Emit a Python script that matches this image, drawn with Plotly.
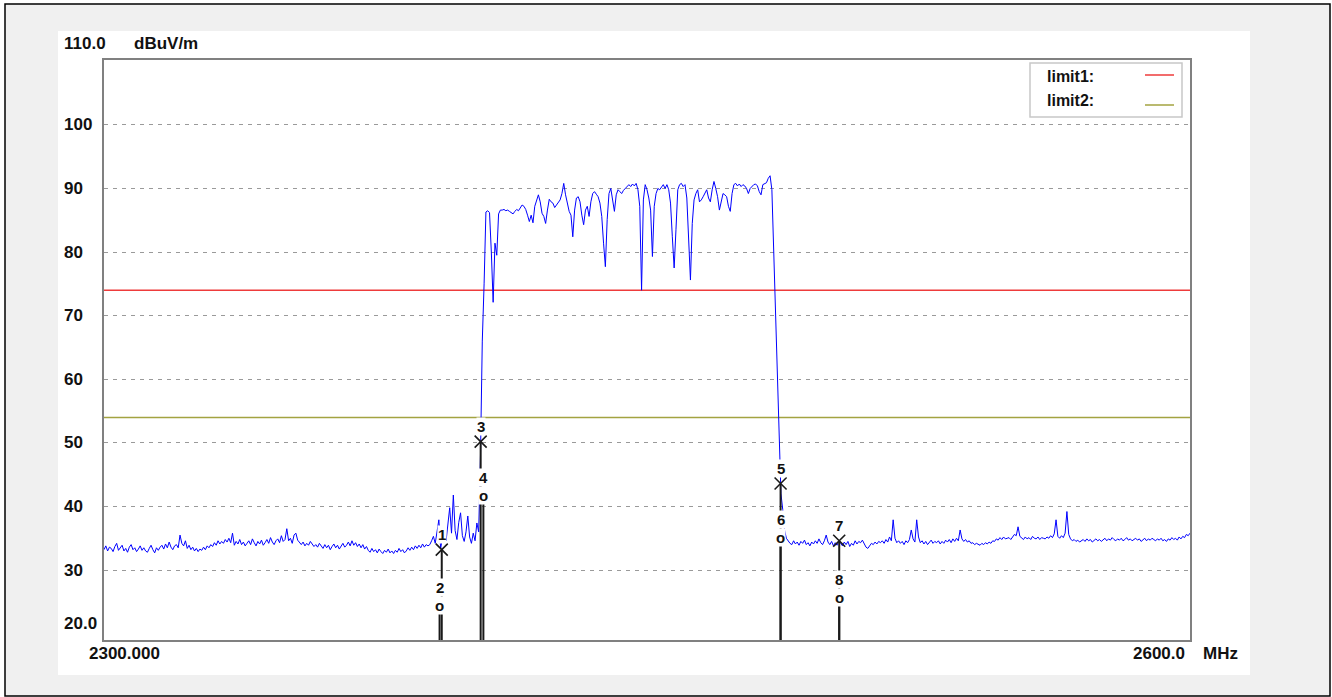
import plotly.graph_objects as go

# ---------------- data ----------------
F_START = 2300.0   # MHz, first sweep point
F_STEP = 0.5       # MHz between sweep points

level = [
    33.2, 33.8, 33.0, 33.6, 33.4, 32.9, 33.7, 34.2, 33.1, 33.5, 33.9, 33.0, 33.4, 32.8, 33.6, 34.0, 33.2, 33.5, 32.9, 33.3,
    33.8, 33.1, 33.5, 33.0, 32.8, 33.4, 33.9, 33.2, 32.7, 33.5, 33.1, 33.6, 33.9, 33.3, 34.1, 33.5, 34.4, 33.6, 33.2, 33.8,
    34.0, 33.5, 35.5, 34.2, 33.8, 34.6, 33.4, 33.9, 33.2, 33.6, 33.0, 33.4, 32.9, 33.3, 33.1, 33.6, 33.2, 33.8, 33.5, 34.0,
    33.7, 34.3, 33.9, 34.6, 34.1, 34.5, 34.2, 34.8, 34.4, 35.0, 34.3, 35.8, 33.9, 34.5, 34.1, 34.8, 34.0, 34.4, 33.8, 34.2,
    34.6, 34.0, 34.9, 34.3, 33.8, 34.5, 34.1, 34.7, 33.9, 34.3, 34.8, 34.2, 35.1, 34.4, 34.0, 34.6, 34.9, 34.3, 35.4, 34.5,
    34.8, 36.5, 34.6, 35.0, 34.2, 35.5, 35.8, 34.7, 34.3, 34.0, 34.4, 33.8, 34.2, 33.9, 34.5, 34.1, 33.7, 34.0, 33.6, 34.2,
    33.8, 33.4, 34.0, 33.5, 33.9, 33.2, 33.7, 34.1, 33.5, 33.9, 33.3, 33.8, 34.2, 33.6, 33.9, 34.4, 33.8, 34.6, 33.9, 34.3,
    33.7, 34.1, 33.5, 34.0, 33.3, 33.7, 33.1, 32.8, 33.4, 32.9, 33.2, 32.7, 33.3, 32.9, 32.6, 33.1, 32.8, 33.3, 32.7, 33.0,
    32.6, 33.1, 32.8, 33.4, 32.9, 33.2, 32.7, 33.0, 33.5, 33.1, 33.6, 33.2, 33.8, 33.4, 33.9, 33.5, 34.1, 33.6, 34.0, 33.8,
    34.0, 34.6, 35.3, 34.2, 36.0, 37.9, 33.4, 35.2, 36.8, 34.6, 37.0, 39.8, 35.8, 41.8, 36.2, 34.8, 37.5, 39.0, 35.4, 34.5,
    36.0, 38.5, 35.2, 34.2, 35.8, 34.6, 37.4, 36.0, 48.0, 66.0, 75.0, 86.3, 86.5, 86.2, 80.0, 72.1, 81.4, 79.5, 86.0, 86.6,
    86.6, 86.7, 86.5, 86.6, 86.4, 86.2, 86.0, 86.4, 86.7, 86.5, 87.0, 87.4, 87.2, 86.7, 85.8, 84.8, 85.8, 84.6, 87.2, 88.2,
    89.0, 87.9, 86.1, 85.6, 84.5, 86.6, 88.3, 87.9, 87.7, 87.0, 87.4, 87.9, 88.2, 89.2, 90.8, 89.0, 87.7, 86.4, 85.8, 82.4,
    86.6, 88.5, 88.7, 87.9, 85.8, 84.3, 86.6, 87.2, 85.6, 87.9, 89.2, 89.5, 89.1, 88.7, 87.7, 85.6, 81.4, 77.7, 85.1, 89.2,
    90.0, 88.5, 86.4, 89.0, 89.8, 89.5, 89.2, 89.7, 90.0, 90.3, 90.6, 90.3, 90.7, 90.4, 90.8, 89.8, 87.2, 74.0, 88.2, 90.6,
    89.8, 88.5, 86.6, 79.3, 87.2, 89.2, 90.0, 89.8, 90.3, 90.6, 90.0, 90.6, 89.8, 87.7, 82.4, 77.5, 83.5, 89.8, 90.6, 90.8,
    90.3, 90.6, 88.5, 82.4, 75.6, 84.5, 88.2, 89.2, 89.8, 87.9, 88.2, 88.7, 89.2, 89.8, 88.5, 87.9, 89.8, 91.1, 90.0, 88.7,
    86.6, 87.9, 89.2, 89.0, 88.7, 87.2, 86.4, 89.2, 90.6, 90.8, 90.4, 90.7, 90.3, 90.6, 90.4, 90.0, 89.2, 90.0, 90.4, 90.6,
    90.7, 90.4, 89.5, 89.0, 90.6, 90.8, 90.9, 91.6, 92.0, 89.8, 79.8, 70.5, 60.0, 50.5, 42.0, 39.5, 36.3, 35.0, 34.5, 34.2,
    34.0, 34.6, 34.1, 34.4, 33.9, 34.5, 34.2, 34.7, 34.0, 34.3, 33.8, 34.4, 34.1, 34.6, 34.2, 34.9, 34.3, 34.0, 34.6, 35.5,
    34.4, 34.0, 34.5, 33.8, 34.3, 33.9, 34.6, 34.2, 33.8, 34.4, 34.0, 34.5, 33.7, 34.2, 33.9, 34.6, 34.1, 34.5, 34.3, 34.7,
    34.0, 33.6, 33.4, 33.8, 34.2, 34.0, 34.4, 34.1, 34.5, 34.3, 34.6, 34.2, 34.8, 34.4, 35.2, 34.6, 37.9, 35.0, 34.3, 34.6,
    34.2, 34.5, 34.0, 34.6, 34.3, 34.8, 36.3, 34.9, 34.4, 37.9, 35.2, 34.3, 34.6, 34.1, 34.5, 34.0, 34.4, 34.7, 34.2, 34.5,
    34.3, 34.6, 34.1, 34.5, 34.2, 34.7, 34.4, 34.8, 34.3, 34.9, 34.5, 35.0, 34.6, 36.3, 34.9, 34.5, 34.8, 34.4, 34.6, 34.2,
    34.3, 34.0, 34.2, 34.1, 33.9, 34.2, 34.0, 34.3, 34.1, 34.4, 34.2, 34.6, 34.5, 34.9, 34.7, 35.1, 34.8, 35.2, 34.9, 35.0,
    35.1, 34.8, 35.2, 35.6, 35.4, 36.8, 35.3, 35.0, 34.8, 35.2, 34.9, 35.1, 34.8, 35.3, 35.0, 34.9, 35.2, 34.8, 35.1, 35.0,
    34.9, 35.2, 35.0, 35.4, 35.1, 35.7, 37.9, 35.3, 35.0, 35.4, 35.1, 35.8, 39.2, 35.6, 34.9, 34.6, 34.8, 34.5, 34.7, 34.4,
    34.6, 34.8, 34.5, 34.9, 34.6, 34.8, 34.4, 34.7, 34.9, 34.6, 34.8, 34.5, 34.7, 35.0, 34.6, 34.9, 34.7, 35.1, 34.8, 34.6,
    34.9, 34.7, 35.0, 34.6, 34.8, 35.1, 34.7, 34.9, 34.6, 34.8, 35.0, 34.7, 34.9, 34.5, 34.8, 35.0, 34.6, 34.9, 34.7, 35.0,
    34.8, 34.6, 34.9, 34.7, 35.0, 34.6, 34.8, 34.5, 34.9, 34.7, 35.1, 34.8, 35.0, 34.7, 35.2, 34.9, 35.3, 35.1, 35.6, 35.4,
    35.8,
]
freq = [F_START + F_STEP * i for i in range(len(level))]

x_range = [2300.0, 2600.0]
y_range = [19.0, 110.2]
y_ticks = [30, 40, 50, 60, 70, 80, 90, 100]
y_top_label = "110.0"
y_bottom_label = "20.0"
y_unit = "dBuV/m"
x_left_label = "2300.000"
x_right_label = "2600.0"
x_unit = "MHz"

limit_names = ["limit1:", "limit2:"]
limit_values = [74.0, 54.0]
limit_colors = ["#ee3b3b", "#a3a341"]

marker_ids = ["1", "2", "3", "4", "5", "6", "7", "8"]
marker_freq = [2393.3, 2392.7, 2404.05, 2404.8, 2486.9, 2486.9, 2503.1, 2503.1]
marker_level = [33.2, 24.5, 50.2, 41.8, 43.6, 35.1, 34.6, 25.7]
marker_kind = ["peak", "avg", "peak", "avg", "peak", "avg", "peak", "avg"]

# ---------------- geometry (pixels of the 1332x697 page) ----------------
W, H = 1332, 697
PL, PR, PT, PB = 104, 1190, 60, 640


def px(x):
    return (x - PL) / (PR - PL)


def py(y):
    return (PB - y) / (PB - PT)


BOLD = dict(family="Liberation Sans, Arial, sans-serif", size=17, color="#111111", weight="bold")
LEG = dict(family="Liberation Sans, Arial, sans-serif", size=16, color="#111111", weight="bold")
MK = dict(family="Liberation Sans, Arial, sans-serif", size=15, color="#111111", weight="bold")

fig = go.Figure()

# limit lines
for name, v, c in zip(limit_names, limit_values, limit_colors):
    fig.add_trace(go.Scatter(x=x_range, y=[v, v], mode="lines", name=name,
                             line=dict(color=c, width=1.5), hoverinfo="skip"))

# measured trace
fig.add_trace(go.Scatter(x=freq, y=level, mode="lines", name="trace",
                         line=dict(color="#0000ff", width=1)))

# marker stems
sx, sy = [], []
for f, v in zip(marker_freq, marker_level):
    sx += [f, f, None]
    sy += [v, y_range[0], None]
fig.add_trace(go.Scatter(x=sx, y=sy, mode="lines", line=dict(color="#1a1a1a", width=2),
                         hoverinfo="skip"))

# peak markers (X)
pk = [i for i, k in enumerate(marker_kind) if k == "peak"]
fig.add_trace(go.Scatter(x=[marker_freq[i] for i in pk], y=[marker_level[i] for i in pk],
                         mode="markers",
                         marker=dict(symbol="x-thin-open", size=12, color="#1a1a1a",
                                     line=dict(color="#1a1a1a", width=1.6)),
                         hoverinfo="skip"))

shapes = [
    # page frame
    dict(type="rect", xref="paper", yref="paper", x0=px(5), x1=px(1330), y0=py(696), y1=py(4),
         fillcolor="#f0f0f0", line=dict(color="#000000", width=1.5), layer="below"),
    # white chart panel
    dict(type="rect", xref="paper", yref="paper", x0=px(58), x1=px(1250), y0=py(675), y1=py(31),
         fillcolor="#ffffff", line=dict(width=0), layer="below"),
    # legend box
    dict(type="rect", xref="paper", yref="paper", x0=px(1030), x1=px(1182), y0=py(117), y1=py(63),
         fillcolor="#ffffff", line=dict(color="#c8c8c8", width=1.5), layer="above"),
]

annotations = []
# legend entries
leg_y = [76, 100]
line_y = [75, 105]
for name, c, ty, ly in zip(limit_names, limit_colors, leg_y, line_y):
    annotations.append(dict(xref="paper", yref="paper", x=px(1045), y=py(ty), text=name,
                            showarrow=False, xanchor="left", yanchor="middle", font=LEG))
    shapes.append(dict(type="line", xref="paper", yref="paper", x0=px(1145), x1=px(1174),
                       y0=py(ly), y1=py(ly), line=dict(color=c, width=1.5), layer="above"))

# y tick labels (left aligned)
for v in y_ticks:
    annotations.append(dict(xref="paper", yref="y", x=px(62), y=v, text=str(v), showarrow=False,
                            xanchor="left", yanchor="middle", font=BOLD))
annotations.append(dict(xref="paper", yref="paper", x=px(62), y=py(44), text=y_top_label,
                        showarrow=False, xanchor="left", yanchor="middle", font=BOLD))
annotations.append(dict(xref="paper", yref="paper", x=px(132), y=py(44), text=y_unit,
                        showarrow=False, xanchor="left", yanchor="middle", font=BOLD))
annotations.append(dict(xref="paper", yref="paper", x=px(62), y=py(623), text=y_bottom_label,
                        showarrow=False, xanchor="left", yanchor="middle", font=BOLD))
annotations.append(dict(xref="paper", yref="paper", x=px(87), y=py(653), text=x_left_label,
                        showarrow=False, xanchor="left", yanchor="middle", font=BOLD))
annotations.append(dict(xref="paper", yref="paper", x=px(1187), y=py(653), text=x_right_label,
                        showarrow=False, xanchor="right", yanchor="middle", font=BOLD))
annotations.append(dict(xref="paper", yref="paper", x=px(1201), y=py(653), text=x_unit,
                        showarrow=False, xanchor="left", yanchor="middle", font=BOLD))

# marker labels
for mid, f, v, k in zip(marker_ids, marker_freq, marker_level, marker_kind):
    if k == "avg":
        annotations.append(dict(x=f, y=v, xref="x", yref="y", text="o", showarrow=False,
                                xanchor="center", yanchor="middle", font=MK, bgcolor="#ffffff",
                                borderpad=0))
        annotations.append(dict(x=f, y=v, xref="x", yref="y", text=mid, showarrow=False,
                                xanchor="center", yanchor="middle", yshift=18, font=MK,
                                bgcolor="#ffffff", borderpad=0))
    else:
        annotations.append(dict(x=f, y=v, xref="x", yref="y", text=mid, showarrow=False,
                                xanchor="center", yanchor="middle", yshift=15, font=MK,
                                bgcolor="#ffffff", borderpad=0))

fig.update_layout(
    width=W, height=H,
    margin=dict(l=PL, r=W - PR, t=PT, b=H - PB, pad=0),
    paper_bgcolor="#ffffff", plot_bgcolor="#ffffff",
    showlegend=False,
    shapes=shapes, annotations=annotations,
    xaxis=dict(range=x_range, showgrid=False, zeroline=False, showticklabels=False, ticks="",
               showline=True, mirror=True, linecolor="#808080", linewidth=2),
    yaxis=dict(range=y_range, tickvals=y_ticks, showticklabels=False, ticks="", zeroline=False,
               showgrid=True, gridcolor="#9a9a9a", gridwidth=1, griddash="4px,5px",
               showline=True, mirror=True, linecolor="#808080", linewidth=2),
)

fig.write_html("out.html", config={"displayModeBar": False},
               post_script="document.body.style.margin='0px';document.body.style.overflow='hidden';")
